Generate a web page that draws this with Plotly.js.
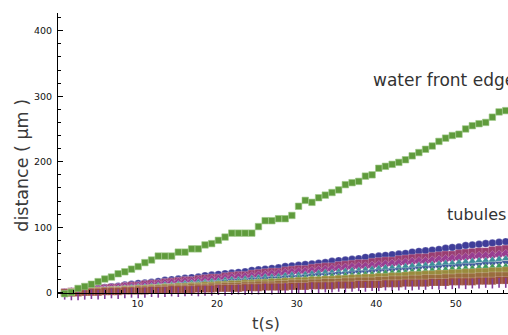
<!DOCTYPE html>
<html><head><meta charset="utf-8">
<script src="https://cdn.plot.ly/plotly-3.0.1.min.js"></script>
<style>html,body{margin:0;padding:0;width:508px;height:335px;overflow:hidden;background:#fff}#c{width:610px;height:335px}</style>
</head><body><div id="c"></div>
<script>
const t = [0.84,1.68,2.52,3.36,4.2,5.04,5.88,6.72,7.56,8.4,9.24,10.08,10.92,11.76,12.6,13.44,14.28,15.12,15.96,16.8,17.64,18.48,19.32,20.16,21,21.84,22.68,23.52,24.36,25.2,26.04,26.88,27.72,28.56,29.4,30.24,31.08,31.92,32.76,33.6,34.44,35.28,36.12,36.96,37.8,38.64,39.48,40.32,41.16,42,42.84,43.68,44.52,45.36,46.2,47.04,47.88,48.72,49.56,50.4,51.24,52.08,52.92,53.76,54.6,55.44,56.28,57.12];

const waterFront = [-1.5,0.5,6.6,9.6,13,17,21,24,29,32,36,40,46,50,56,56,56,62,62,67,67,73,75,80,85,91,91,91,91,101,110,110,113,113,118,132,141,138,145,149,153,157,165,168,170,178,180,190,193,196,199,203,209,214,219,224,231,236,240,242,250,255,258,260,268,276,278,282];

const tub1 = [1,2,4,5,6,7,8,9,10,12, 13,14,15,16,17,19,20,21,22,23, 24,26,27,28,29,30,31,32,34,35, 36,37,38,40,41,42,43,44,45,46, 48,49,50,51,52,54,55,56,57,58, 59,60,62,63,64,65,66,68,69,70, 72,73,74,75,76,77,78,79];
const tub2 = [1,2,2,4,5,5,7,8,8,10, 11,11,13,14,14,16,17,18,19,19, 21,22,23,23,25,26,27,27,29,30, 31,32,32,34,35,36,36,38,39,40, 40,42,43,44,45,45,47,48,49,49, 51,52,53,54,54,56,57,58,58,60, 61,62,63,63,65,66,67,68];
const tub3 = [0,1,3,3,4,5,6,7,8,9, 9,10,11,12,13,14,15,16,17,17, 18,19,20,21,22,23,24,24,25,26, 27,28,29,30,31,32,32,33,34,35, 36,37,38,39,40,40,41,42,43,44, 45,46,47,48,48,49,50,51,52,53, 54,55,56,56,57,58,59,60];
const tub4 = [-1,0,1,2,3,4,5,5,6,7, 8,9,9,10,11,12,12,13,14,15, 16,16,17,18,19,20,20,21,22,23, 24,24,25,26,27,27,28,29,30,31, 31,32,33,34,34,35,36,37,38,38, 39,40,41,42,42,43,44,45,45,46, 47,48,49,49,50,51,52,52];
const tub5 = [0,1,1,2,3,4,4,5,6,6, 7,8,8,9,10,11,11,12,13,13, 14,15,15,16,17,18,18,19,20,20, 21,22,22,23,24,24,25,26,27,27, 28,29,29,30,31,31,32,33,33,34, 35,35,36,37,38,38,39,40,40,41, 42,42,43,44,44,45,46,46];
const tub6 = [0,0,1,2,2,3,4,4,5,6, 6,7,7,8,9,9,10,11,11,12, 12,13,14,14,15,15,16,17,17,18, 18,19,20,20,21,22,22,23,23,24, 25,25,26,26,27,28,28,29,30,30, 31,31,32,33,33,34,34,35,36,36, 37,37,38,39,39,40,40,41];
const tub7 = [0,1,1,2,2,3,3,4,4,5, 5,6,6,7,7,8,8,9,9,10, 10,11,11,12,12,13,13,14,14,15, 15,16,16,17,17,18,18,19,19,20, 20,21,21,22,22,23,23,24,24,25, 25,26,27,27,28,28,29,29,30,30, 31,31,32,32,33,33,34,34];
const tub8 = [0,0,1,1,2,2,3,3,3,4, 4,5,5,5,6,6,7,7,7,8, 8,8,9,9,10,10,10,11,11,12, 12,12,13,13,14,14,14,15,15,16, 16,16,17,17,18,18,18,19,19,20, 20,20,21,21,22,22,22,23,23,24, 24,24,25,25,26,26,26,27];
const tub9 = [0,0,0,1,1,1,2,2,2,3, 3,3,3,4,4,4,5,5,5,5, 6,6,6,7,7,7,7,8,8,8, 9,9,9,9,10,10,10,11,11,11, 11,12,12,12,13,13,13,13,14,14, 14,15,15,15,15,16,16,16,17,17, 17,17,18,18,18,19,19,19];
const tub10 = [-3,-4,-4,-3,-2,-3,-2,-1,-2,-1, 0,-1,0,1,0,1,2,1,2,3, 2,3,3,4,3,4,5,4,5,5, 6,5,6,7,6,7,7,8,7,8, 8,9,8,9,10,9,10,10,11,10, 11,12,11,12,12,13,12,13,13,14, 13,14,14,15,14,15,15,16];

const xTicks = [10,20,30,40,50];
const yTicks = [0,100,200,300,400];

const tubules = [
  {y: tub1, color:'#3F3D99', symbol:'circle'},
  {y: tub2, color:'#993D71', symbol:'square'},
  {y: tub3, color:'#993D90', symbol:'diamond'},
  {y: tub4, color:'#3D8E99', symbol:'triangle-up'},
  {y: tub5, color:'#3D5A99', symbol:'triangle-down'},
  {y: tub6, color:'#3D9956', symbol:'triangle-up'},
  {y: tub7, color:'#998B3D', symbol:'square'},
  {y: tub8, color:'#996D3D', symbol:'square'},
  {y: tub9, color:'#994E3D', symbol:'square'},
  {y: tub10, color:'#833D99', symbol:'line-ns'}
];

const traces = tubules.map(s => ({
  x: t, y: s.y, type:'scatter', mode:'markers', hoverinfo:'skip', cliponaxis:false,
  marker: s.symbol === 'line-ns'
    ? {symbol:'line-ns', size:7, line:{width:1.6, color:s.color}}
    : {symbol:s.symbol, size:7.5, color:s.color, line:{width:0.5, color:'rgba(255,255,255,0.45)'}}
}));
traces.push({x: t, y: waterFront, type:'scatter', mode:'markers', cliponaxis:false,
  marker:{symbol:'square', size:6.5, color:'#5F9B3C', line:{width:0.6, color:'#9cc784'}}});

const yMin = -8, yMax = 427;
const layout = {
  width:610, height:335,
  margin:{l:58, r:11, t:13, b:37},
  paper_bgcolor:'#fff', plot_bgcolor:'#fff',
  showlegend:false,
  font:{family:'DejaVu Sans', color:'#222'},
  xaxis:{range:[0,68], tickvals:xTicks, ticks:'inside', ticklen:5, tickwidth:1, tickcolor:'#000',
    showline:true, linecolor:'#000', linewidth:1, showgrid:false, zeroline:false,
    anchor:'free', position:(0 - yMin)/(yMax - yMin),
    tickfont:{size:9.5, color:'#111'}, ticklabelstandoff:2,
    minor:{dtick:2, tick0:0, ticks:'inside', ticklen:3, tickcolor:'#000', showgrid:false}},
  yaxis:{range:[yMin,yMax], tickvals:yTicks, ticks:'inside', ticklen:5, tickwidth:1, tickcolor:'#000',
    showline:true, linecolor:'#000', linewidth:1, showgrid:false, zeroline:false,
    tickfont:{size:9.5, color:'#111'}, ticklabelstandoff:3,
    minor:{dtick:20, tick0:0, ticks:'inside', ticklen:3, tickcolor:'#000', showgrid:false}},
  annotations:[
    {text:'distance ( μm )', xref:'paper', yref:'y', x:(22-58)/541, y:194, textangle:-90, xanchor:'center', yanchor:'middle', showarrow:false, font:{size:17.5, color:'#3a3a3a'}},
    {text:'t(s)', xref:'x', yref:'paper', x:26.2, y:-0.09, xanchor:'center', yanchor:'middle', showarrow:false, font:{size:16.5, color:'#3a3a3a'}},
    {text:'water front edge', xref:'x', yref:'y', x:39.3, y:324, xanchor:'left', yanchor:'middle', showarrow:false, font:{size:17, color:'#333'}},
    {text:'tubules', xref:'x', yref:'y', x:48.6, y:119, xanchor:'left', yanchor:'middle', showarrow:false, font:{size:16, color:'#333'}}
  ]
};
Plotly.newPlot('c', traces, layout, {staticPlot:true, displayModeBar:false});
</script></body></html>
